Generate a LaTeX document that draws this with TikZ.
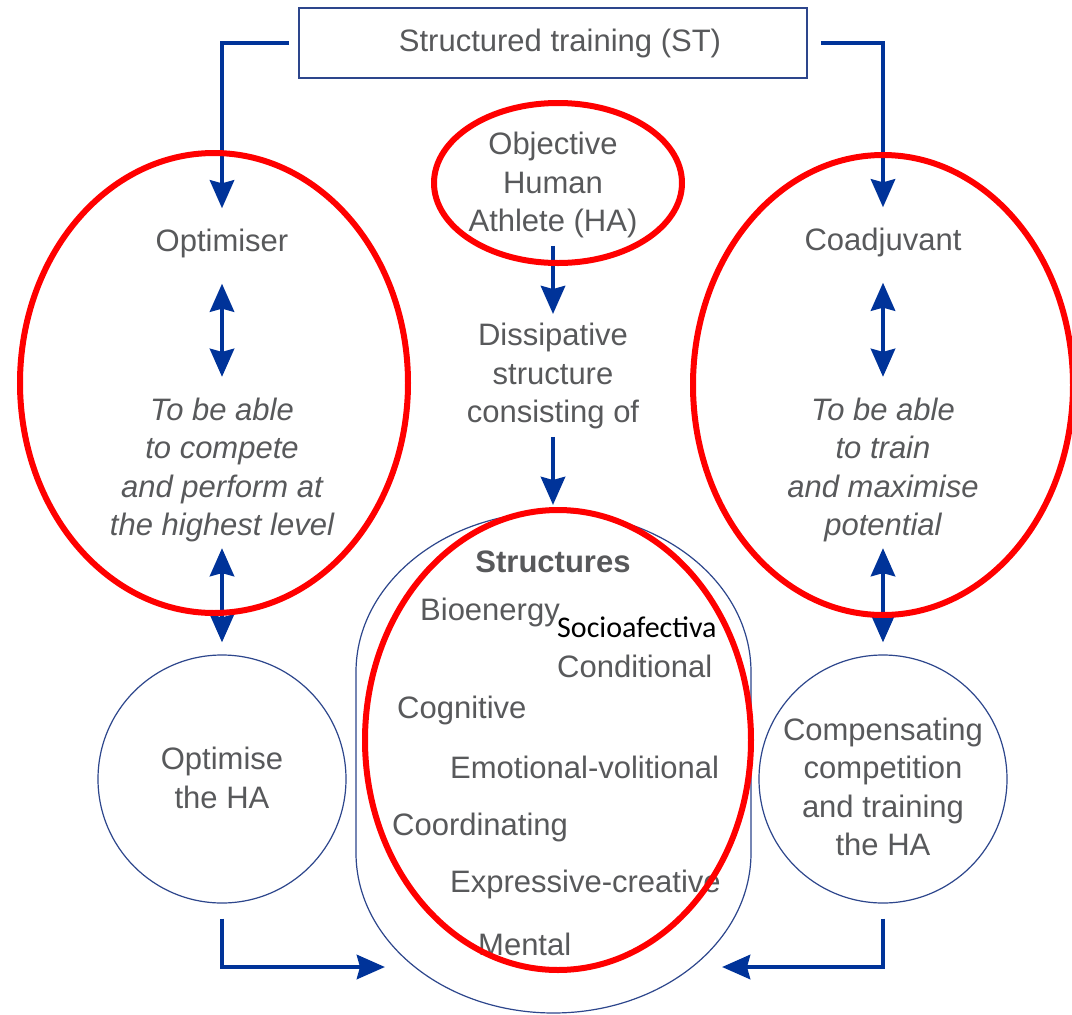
\documentclass[tikz,border=0pt]{standalone}
\usepackage{fontspec}
\setmainfont{Liberation Sans}
\newfontfamily\calibrifont{Carlito}
\usetikzlibrary{arrows.meta,calc}
\definecolor{txtgray}{RGB}{88,89,91}
\definecolor{arrblue}{RGB}{0,51,153}
\definecolor{lineblue}{RGB}{45,70,140}
\definecolor{markred}{RGB}{255,0,0}

\begin{document}
\begin{tikzpicture}[x=1pt,y=-1pt,
  lbl/.style={text=txtgray, font=\fontsize{31}{38.3}\selectfont, inner sep=0pt, align=center},
  ital/.style={lbl, font=\fontsize{31}{38.3}\selectfont\itshape},
  item/.style={lbl, anchor=base west},
  tipshape/.tip={Stealth[length=28pt,width=24pt,inset=3pt]},
  arr/.style={draw=arrblue, line width=4.8pt, -tipshape},
  darr/.style={draw=arrblue, line width=4.8pt, tipshape-tipshape},
  ring/.style={circle, draw=lineblue, line width=1.2pt, minimum size=248pt, inner sep=0pt},
  redring/.style={draw=markred, line width=6pt}
]
\fill[white] (0,0) rectangle (1072,1015);
\useasboundingbox (0,0) rectangle (1072,1015);

% top box
\node[lbl, draw=lineblue, line width=1.8pt, minimum width=508pt, minimum height=70pt]
  (st) at (553,43) {\hspace*{14pt}Structured training (ST)};

% left column
\node[lbl, anchor=base] (opt) at (222,251) {Optimiser};
\node[ital] (goalL) at (222,470) {To be able\\to compete\\and perform at\\the highest level};
\node[ring] (optha) at (222,779) {};
\node[lbl] (opthatxt) at (222,778) {Optimise\\the HA};

% right column
\node[lbl, anchor=base] (coad) at (883,250) {Coadjuvant};
\node[ital] (goalR) at (883,470) {To be able\\to train\\and maximise\\potential};
\node[ring] (comp) at (883,779) {};
\node[lbl] (comptxt) at (883,787) {Compensating\\competition\\and training\\the HA};

% centre column
\node[lbl] (ha) at (553,185) {Objective\\Human\\Athlete (HA)};
\node[lbl] (diss) at (553,376) {Dissipative\\structure\\consisting of};

% structures container
\draw[draw=lineblue, line width=1.2pt]
  (356,672) arc[start angle=180,end angle=360,x radius=197.5,y radius=160]
  -- (751,853) arc[start angle=0,end angle=180,x radius=197.5,y radius=160] -- cycle;
\coordinate (stadtop) at (553,505);
\coordinate (inL) at (385,967);
\coordinate (inR) at (722,967);

\node[lbl, font=\fontsize{31}{38.3}\selectfont\bfseries, anchor=base] (head) at (553,572) {Structures};
\node[item] (bio) at (420,620) {Bioenergy};
\node[anchor=base west, inner sep=0pt, text=black, font=\calibrifont\fontsize{30}{36}\selectfont] (socio) at (557,637) {Socioafectiva};
\node[item] (cond) at (557,677) {Conditional};
\node[item] (cogn) at (397,718) {Cognitive};
\node[item] (emo) at (450,778) {Emotional-volitional};
\node[item] (coord) at (392,835) {Coordinating};
\node[item] (expr) at (450,892) {Expressive-creative};
\node[item] (ment) at (478,955) {Mental};

% connectors
\draw[arr] ([xshift=-9pt]st.west) -| ([yshift=20pt]opt.north);
\draw[arr] ([xshift=13pt]st.east) -| ([yshift=20pt]coad.north);
\draw[darr] ([yshift=-26pt]opt.south) -- ([yshift=21pt]goalL.north);
\draw[darr] ([yshift=-26pt]coad.south) -- ([yshift=21pt]goalR.north);
\draw[darr] ([yshift=-6pt]goalL.south) -- ([yshift=12pt]optha.north);
\draw[darr] ([yshift=-6pt]goalR.south) -- ([yshift=12pt]comp.north);
\draw[arr] ([yshift=-8pt]ha.south) -- ([yshift=9pt]diss.north);
\draw[arr] ([yshift=-8pt]diss.south) -- (stadtop);
\draw[arr] ([yshift=-15pt]optha.south) |- (inL);
\draw[arr] ([yshift=-15pt]comp.south) |- (inR);

% highlight ellipses
\draw[redring] (214,383) ellipse [x radius=194, y radius=230];
\draw[redring] (883,385) ellipse [x radius=190, y radius=230];
\draw[redring] (558,183) ellipse [x radius=124, y radius=80];
\draw[redring] (558,740) ellipse [x radius=193, y radius=230];
\end{tikzpicture}
\end{document}
